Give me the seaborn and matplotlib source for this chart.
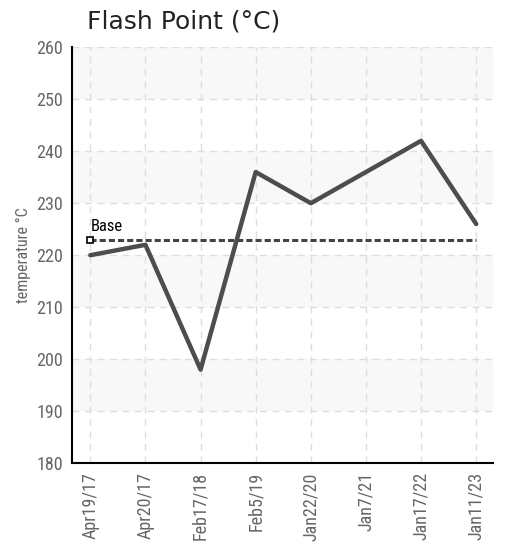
import numpy as np
import pandas as pd
import matplotlib
matplotlib.use('Agg')
import matplotlib.pyplot as plt
import seaborn as sns

dates = ['Apr19/17', 'Apr20/17', 'Feb17/18', 'Feb5/19', 'Jan22/20', 'Jan7/21', 'Jan17/22', 'Jan11/23']
flash_point = [220, 222, 198, 236, 230, 236, 242, 226]
base_value = 223
y_ticks = [180, 190, 200, 210, 220, 230, 240, 250, 260]

df = pd.DataFrame({'date': dates, 'value': flash_point, 'pos': range(len(dates))})

sns.set_style('white')
plt.rcParams['font.family'] = ['Roboto Condensed', 'DejaVu Sans']

fig = plt.figure(figsize=(5.08, 5.43), dpi=100)
ax = fig.add_axes([0.142, 0.147, 0.829, 0.766])

# alternating bands
for i, lo in enumerate(y_ticks[:-1]):
    if (len(y_ticks) - 2 - i) % 2 == 0:
        ax.axhspan(lo, lo + 10, color='#f8f8f8', zorder=0, lw=0)

ax.grid(True, color='#dedede', linestyle=(0, (5, 4)), linewidth=1)
ax.set_axisbelow(True)

ax.plot([0, len(dates) - 1], [base_value, base_value], color='#444444',
        linestyle=(0, (2, 1)), linewidth=2.2, zorder=2)
ax.plot([0], [base_value], marker='s', markersize=5, markerfacecolor='white',
        markeredgecolor='black', markeredgewidth=1.2, linestyle='none', zorder=4)
ax.text(0, base_value + 1.0, 'Base', fontsize=12, color='black', ha='left', va='bottom')

sns.lineplot(data=df, x='pos', y='value', ax=ax, color='#4d4d4d', linewidth=3.2, zorder=3)

ax.set_xlim(-0.33, len(dates) - 1 + 0.31)
ax.set_ylim(180, 260)
ax.set_xticks(range(len(dates)))
ax.set_xticklabels(dates, rotation=90, fontsize=13, color='#666666')
ax.set_yticks(y_ticks)
ax.set_yticklabels([str(v) for v in y_ticks], fontsize=13, color='#666666')
ax.tick_params(axis='both', direction='inout', length=7, width=1.5, color='black', pad=3)
ax.set_xlabel('')
ax.set_ylabel('temperature °C', fontsize=11.5, color='#666666', labelpad=4)

for side in ['top', 'right']:
    ax.spines[side].set_visible(False)
for side in ['left', 'bottom']:
    ax.spines[side].set_color('black')
    ax.spines[side].set_linewidth(1.5)

fig.text(0.171, 0.938, 'Flash Point (°C)', fontsize=18, color='#222222',
         family=['DejaVu Sans'], va='bottom')

fig.savefig('out.png', dpi=100)
